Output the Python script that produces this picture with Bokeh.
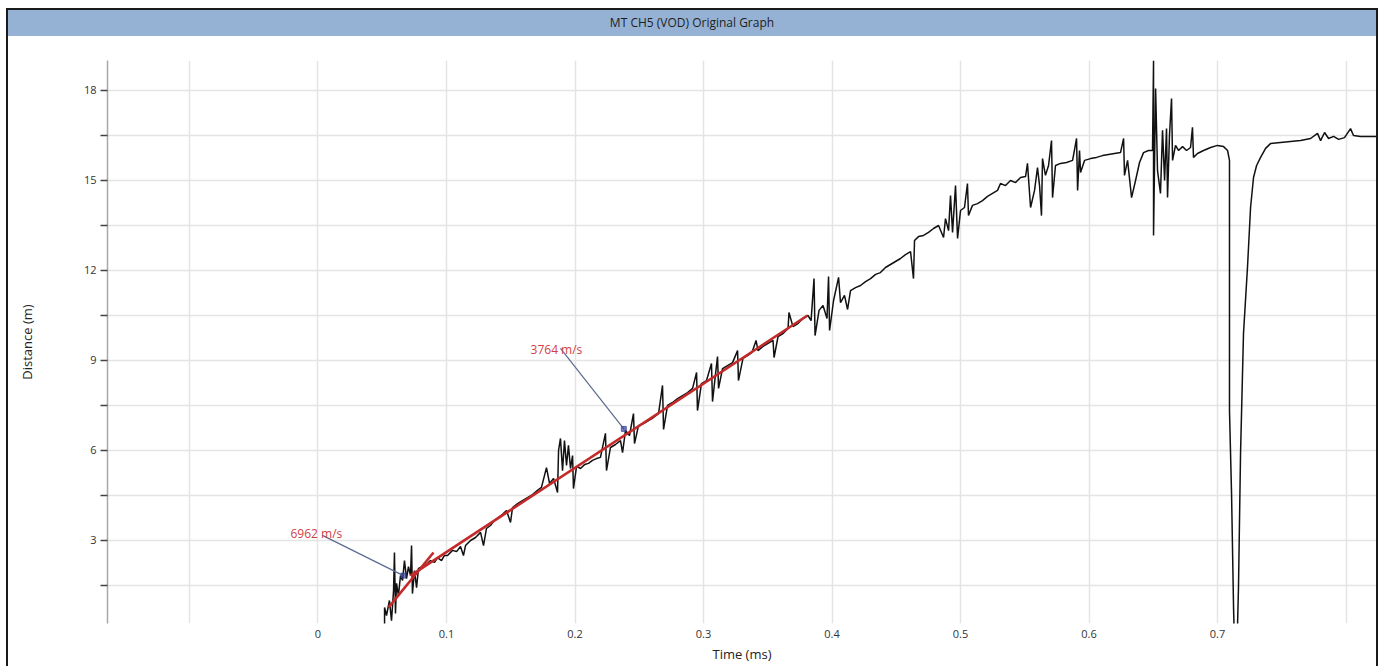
from bokeh.plotting import figure
from bokeh.models import Range1d, FixedTicker, Div, NumeralTickFormatter
from bokeh.layouts import column
from bokeh.core.properties import value
from bokeh.embed import file_html
from bokeh.resources import INLINE

title_text = "MT CH5 (VOD) Original Graph"
x_label = "Time (ms)"
y_label = "Distance (m)"

# measured trace (time in ms, distance in m)
time_ms = [
    0.0518, 0.0518, 0.0533, 0.0556, 0.0572, 0.0588, 0.0595, 0.0603, 0.0611, 0.0626,
    0.0642, 0.0658, 0.0673, 0.0689, 0.0704, 0.0720, 0.0728, 0.0735, 0.0751, 0.0767,
    0.0782, 0.0798, 0.0829, 0.0852, 0.0875, 0.0907, 0.0930, 0.0961, 0.0984, 0.1008,
    0.1047, 0.1078, 0.1109, 0.1132, 0.1148, 0.1187, 0.1226, 0.1265, 0.1288, 0.1311,
    0.1342, 0.1374, 0.1405, 0.1436, 0.1467, 0.1498, 0.1514, 0.1553, 0.1591, 0.1630,
    0.1669, 0.1708, 0.1739, 0.1778, 0.1802, 0.1833, 0.1864, 0.1872, 0.1887, 0.1903,
    0.1918, 0.1934, 0.1949, 0.1965, 0.1981, 0.1988, 0.2012, 0.2043, 0.2074, 0.2105,
    0.2136, 0.2167, 0.2198, 0.2237, 0.2245, 0.2276, 0.2315, 0.2354, 0.2370, 0.2393,
    0.2424, 0.2455, 0.2463, 0.2494, 0.2533, 0.2572, 0.2611, 0.2650, 0.2681, 0.2689,
    0.2720, 0.2759, 0.2798, 0.2837, 0.2876, 0.2915, 0.2946, 0.2953, 0.2984, 0.3023,
    0.3062, 0.3070, 0.3093, 0.3109, 0.3117, 0.3148, 0.3187, 0.3226, 0.3265, 0.3272,
    0.3307, 0.3346, 0.3377, 0.3409, 0.3424, 0.3463, 0.3502, 0.3541, 0.3549, 0.3580,
    0.3619, 0.3658, 0.3665, 0.3696, 0.3735, 0.3774, 0.3813, 0.3837, 0.3860, 0.3868,
    0.3899, 0.3930, 0.3961, 0.3973, 0.3981, 0.4012, 0.4051, 0.4066, 0.4097, 0.4121,
    0.4144, 0.4183, 0.4222, 0.4261, 0.4300, 0.4339, 0.4377, 0.4416, 0.4455, 0.4494,
    0.4533, 0.4572, 0.4611, 0.4634, 0.4642, 0.4673, 0.4712, 0.4751, 0.4790, 0.4829,
    0.4868, 0.4883, 0.4907, 0.4922, 0.4938, 0.4961, 0.4977, 0.5000, 0.5031, 0.5054,
    0.5062, 0.5093, 0.5132, 0.5171, 0.5210, 0.5249, 0.5288, 0.5311, 0.5350, 0.5389,
    0.5428, 0.5467, 0.5506, 0.5521, 0.5545, 0.5576, 0.5599, 0.5615, 0.5630, 0.5638,
    0.5661, 0.5685, 0.5708, 0.5716, 0.5739, 0.5778, 0.5825, 0.5872, 0.5903, 0.5911,
    0.5926, 0.5934, 0.5965, 0.6012, 0.6058, 0.6105, 0.6152, 0.6198, 0.6245, 0.6269,
    0.6276, 0.6300, 0.6331, 0.6362, 0.6393, 0.6424, 0.6463, 0.6494, 0.6502, 0.6502,
    0.6518, 0.6533, 0.6556, 0.6572, 0.6588, 0.6603, 0.6611, 0.6626, 0.6642, 0.6650,
    0.6673, 0.6696, 0.6728, 0.6759, 0.6790, 0.6805, 0.6813, 0.6844, 0.6891, 0.6946,
    0.7000, 0.7047, 0.7078, 0.7093, 0.7093, 0.7109, 0.7125, 0.7140, 0.7156, 0.7163,
    0.7179, 0.7202, 0.7233, 0.7257, 0.7280, 0.7304, 0.7335, 0.7374, 0.7412, 0.7490,
    0.7568, 0.7646, 0.7724, 0.7778, 0.7802, 0.7833, 0.7864, 0.7903, 0.7942, 0.7988,
    0.8035, 0.8058, 0.8113, 0.8237,
]
dist_m = [
    0.17, 0.77, 0.50, 1.00, 0.33, 1.33, 2.60, 0.57, 1.57, 1.17,
    1.83, 1.67, 2.33, 1.73, 2.13, 1.83, 2.83, 1.23, 2.00, 1.43,
    2.07, 2.10, 2.17, 2.23, 2.33, 2.27, 2.43, 2.33, 2.50, 2.50,
    2.67, 2.63, 2.80, 2.50, 2.83, 3.00, 3.10, 3.27, 2.83, 3.40,
    3.50, 3.67, 3.77, 3.87, 4.00, 3.60, 4.10, 4.23, 4.33, 4.43,
    4.53, 4.67, 4.77, 5.43, 4.90, 5.07, 4.60, 6.00, 6.40, 5.33,
    6.33, 5.50, 6.17, 5.40, 5.83, 4.73, 5.47, 5.40, 5.53, 5.57,
    5.67, 5.73, 5.77, 6.57, 5.33, 6.10, 6.20, 6.33, 5.93, 6.67,
    6.50, 7.23, 6.23, 6.83, 6.90, 7.00, 7.10, 7.23, 8.17, 6.70,
    7.50, 7.60, 7.73, 7.83, 7.93, 8.07, 8.60, 7.33, 8.23, 8.33,
    8.90, 7.63, 8.53, 9.13, 8.07, 8.73, 8.83, 8.93, 9.33, 8.33,
    9.07, 9.17, 9.27, 9.67, 9.33, 9.47, 9.57, 9.67, 9.10, 9.80,
    9.90, 10.07, 10.60, 10.13, 10.23, 10.40, 10.50, 10.33, 11.73, 9.83,
    10.67, 10.83, 10.40, 11.80, 10.00, 11.00, 11.77, 10.93, 11.17, 10.70,
    11.33, 11.43, 11.50, 11.63, 11.73, 11.87, 11.93, 12.10, 12.20, 12.30,
    12.40, 12.53, 12.63, 11.73, 13.00, 13.13, 13.17, 13.27, 13.40, 13.50,
    13.10, 13.73, 13.33, 14.50, 13.27, 14.83, 13.07, 14.00, 14.10, 14.90,
    13.83, 14.17, 14.23, 14.33, 14.47, 14.57, 14.67, 14.90, 14.83, 15.00,
    14.93, 15.10, 15.13, 15.57, 14.10, 14.67, 15.43, 14.83, 13.83, 15.73,
    15.17, 15.50, 16.33, 14.43, 15.50, 15.57, 15.60, 15.67, 16.40, 14.67,
    16.00, 15.27, 15.67, 15.73, 15.77, 15.83, 15.87, 15.90, 15.93, 16.40,
    15.17, 15.67, 14.43, 15.00, 15.60, 15.93, 16.00, 16.00, 19.00, 13.17,
    18.07, 15.33, 14.57, 16.67, 15.00, 16.73, 14.43, 16.50, 17.73, 15.67,
    16.17, 16.00, 16.13, 16.00, 16.10, 16.77, 15.77, 15.90, 16.00, 16.10,
    16.17, 16.13, 16.00, 15.67, 7.33, 4.57, 0.67, -1.67, 0.23, 1.43,
    5.90, 9.90, 12.10, 14.10, 15.10, 15.50, 15.77, 16.07, 16.23, 16.27,
    16.30, 16.33, 16.40, 16.57, 16.33, 16.60, 16.40, 16.47, 16.37, 16.43,
    16.73, 16.50, 16.47, 16.47,
]

# linear fits (start / end points)
fit_t0 = [0.0549, 0.0720]
fit_d0 = [0.77, 1.83]
fit_t1 = [0.0899, 0.3809]
fit_d1 = [2.60, 10.50]

# velocity labels and leader lines
vod_text = ["6962 m/s", "3764 m/s"]
vod_text_t = [-0.0214, 0.1654]
vod_text_d = [3.23, 9.38]
leader_t0 = [0.0035, 0.1887]
leader_d0 = [3.17, 9.40]
leader_t1 = [0.0665, 0.2380]
leader_d1 = [1.83, 6.72]

x_ticks = [0, 0.1, 0.2, 0.3, 0.4, 0.5, 0.6, 0.7]
x_grid = [-0.1, 0, 0.1, 0.2, 0.3, 0.4, 0.5, 0.6, 0.7, 0.8]
y_ticks = [3, 6, 9, 12, 15, 18]
y_minor = [1.5, 4.5, 7.5, 10.5, 13.5, 16.5]

FONT = "Open Sans"
GRID = "#e4e4e4"

p = figure(width=1368, height=630,
           x_range=Range1d(-0.1638, 0.8237), y_range=Range1d(0.233, 19.0),
           output_backend="svg", toolbar_location=None,
           min_border_left=99, min_border_right=0, min_border_top=24, min_border_bottom=43)
p.outline_line_color = None
p.background_fill_color = "white"
p.border_fill_color = "white"

# grids
p.xgrid.ticker = FixedTicker(ticks=x_grid)
p.xgrid.grid_line_color = GRID
p.xgrid.grid_line_width = 1.5
yt = FixedTicker(ticks=y_ticks, minor_ticks=y_minor)
p.yaxis.ticker = yt
p.ygrid.ticker = yt
p.ygrid.grid_line_color = GRID
p.ygrid.grid_line_width = 1.5
p.ygrid.minor_grid_line_color = GRID
p.ygrid.minor_grid_line_width = 1.5

# x axis
p.xaxis.ticker = FixedTicker(ticks=x_ticks)
p.xaxis.formatter = NumeralTickFormatter(format="0.[0]")
p.xaxis.axis_line_color = None
p.xaxis.major_tick_line_color = None
p.xaxis.minor_tick_line_color = None
p.xaxis.major_tick_out = 0
p.xaxis.major_tick_in = 0
p.xaxis.major_label_standoff = 6
p.xaxis.major_label_text_font = FONT
p.xaxis.major_label_text_font_size = "11px"
p.xaxis.major_label_text_color = "#333333"
p.xaxis.axis_label = x_label
p.xaxis.axis_label_text_font = FONT
p.xaxis.axis_label_text_font_size = "13px"
p.xaxis.axis_label_text_font_style = "normal"
p.xaxis.axis_label_text_color = "#222222"
p.xaxis.axis_label_standoff = 4

# y axis
p.yaxis.axis_line_color = "#a8a8a8"
p.yaxis.axis_line_width = 1.5
p.yaxis.major_tick_out = 7
p.yaxis.major_tick_in = 0
p.yaxis.minor_tick_out = 7
p.yaxis.minor_tick_in = 0
p.yaxis.major_tick_line_color = "#444444"
p.yaxis.minor_tick_line_color = "#444444"
p.yaxis.major_tick_line_width = 1.5
p.yaxis.minor_tick_line_width = 1.5
p.yaxis.major_label_standoff = 4
p.yaxis.major_label_text_font = FONT
p.yaxis.major_label_text_font_size = "11px"
p.yaxis.major_label_text_color = "#333333"
p.yaxis.axis_label = y_label
p.yaxis.axis_label_text_font = FONT
p.yaxis.axis_label_text_font_size = "13px"
p.yaxis.axis_label_text_font_style = "normal"
p.yaxis.axis_label_text_color = "#222222"
p.yaxis.axis_label_standoff = 45

# trace
p.line(time_ms, dist_m, line_color="#111111", line_width=1.5)

# fits
p.segment(fit_t0, fit_d0, fit_t1, fit_d1, line_color="#c42a2a", line_width=2.6)

# leaders
p.segment(leader_t0, leader_d0, leader_t1, leader_d1, line_color="#5b6a8e", line_width=1.2)
p.scatter(leader_t1, leader_d1, marker="square", size=5, fill_color="#33409a",
          line_color="#33409a", fill_alpha=0.7, line_alpha=0.7)

# labels
p.text(vod_text_t, vod_text_d, text=vod_text, text_color="#d2413f",
       text_font=value(FONT), text_font_size="12px", text_baseline="middle",
       text_align="left")

header = Div(text=title_text, width=1368, height=26, margin=0,
             styles={"background-color": "#95b2d5", "text-align": "center",
                     "line-height": "26px", "font-family": "'Open Sans', sans-serif",
                     "font-size": "12px", "color": "#1e1e1e"})

layout = column(header, p, spacing=0, margin=(8, 0, 0, 6),
                styles={"border-left": "2px solid #1a1a1a",
                        "border-right": "2px solid #1a1a1a",
                        "border-top": "2px solid #1a1a1a"})

open("out.html", "w").write(file_html(layout, INLINE))
